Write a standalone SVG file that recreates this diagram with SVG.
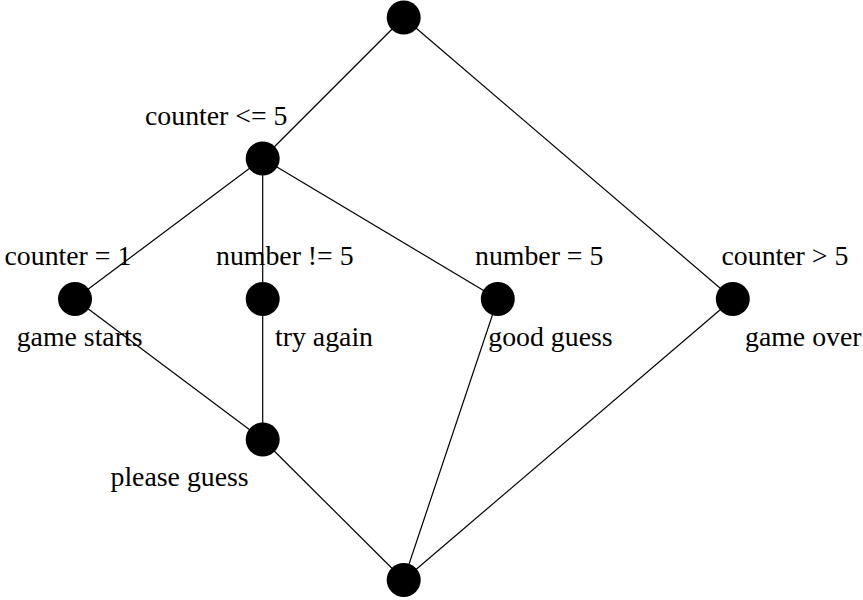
<svg xmlns="http://www.w3.org/2000/svg" width="863" height="600" viewBox="0 0 863 600">
<style>
.e{stroke:#000;stroke-width:1.2;fill:none}
.n{fill:#000}
text{font-family:"Liberation Serif","Times New Roman",serif;font-size:27.8px;fill:#000}
</style>
<rect width="863" height="600" fill="#fff"/>
<g id="edges">
<line class="e" x1="403.7" y1="17.5" x2="262.7" y2="158.5"/>
<line class="e" x1="403.7" y1="17.5" x2="732.8" y2="299"/>
<line class="e" x1="262.7" y1="158.5" x2="75" y2="299"/>
<line class="e" x1="262.7" y1="158.5" x2="262.7" y2="299"/>
<line class="e" x1="262.7" y1="158.5" x2="497.8" y2="299"/>
<line class="e" x1="75" y1="299" x2="262.7" y2="439.5"/>
<line class="e" x1="262.7" y1="299" x2="262.7" y2="439.5"/>
<line class="e" x1="262.7" y1="439.5" x2="403.7" y2="580"/>
<line class="e" x1="497.8" y1="299" x2="403.7" y2="580"/>
<line class="e" x1="732.8" y1="299" x2="403.7" y2="580"/>
</g>
<g id="top"><circle class="n" cx="403.7" cy="17.5" r="17"/></g>
<g id="counter_le5"><circle class="n" cx="262.7" cy="158.5" r="17"/><text x="145" y="124.5">counter &lt;= 5</text></g>
<g id="counter_eq1"><circle class="n" cx="75" cy="299" r="17"/><text x="4.5" y="265">counter = 1</text><text x="16.7" y="346">game starts</text></g>
<g id="number_ne5"><circle class="n" cx="262.7" cy="299" r="17"/><text x="216" y="265">number != 5</text><text x="275" y="346">try again</text></g>
<g id="number_eq5"><circle class="n" cx="497.8" cy="299" r="17"/><text x="475" y="265">number = 5</text><text x="488.3" y="346">good guess</text></g>
<g id="counter_gt5"><circle class="n" cx="732.8" cy="299" r="17"/><text x="721.5" y="265">counter &gt; 5</text><text x="745" y="346">game over</text></g>
<g id="please_guess"><circle class="n" cx="262.7" cy="439.5" r="17"/><text x="110.5" y="486">please guess</text></g>
<g id="bottom"><circle class="n" cx="403.7" cy="580" r="17"/></g>
</svg>
